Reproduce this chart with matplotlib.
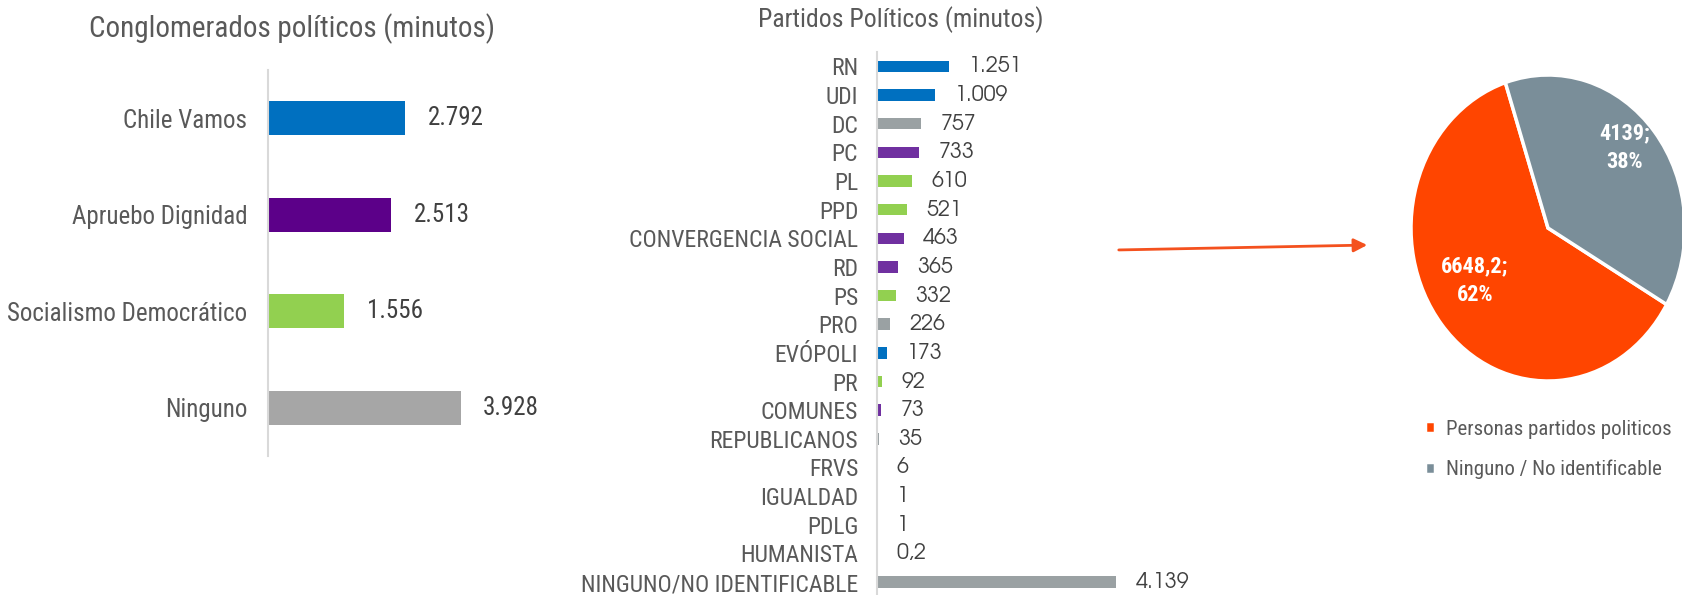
import matplotlib
matplotlib.use("Agg")
import matplotlib.pyplot as plt
from matplotlib.patches import FancyArrowPatch

# ====================================
# Data
# ====================================
bloques = ["Chile Vamos", "Apruebo Dignidad", "Socialismo Democrático", "Ninguno"]
bloques_min = [2792, 2513, 1556, 3928]
bloques_col = ["#0070C0", "#5C0089", "#92D050", "#A6A6A6"]

partidos = ["RN", "UDI", "DC", "PC", "PL", "PPD", "CONVERGENCIA SOCIAL", "RD", "PS",
            "PRO", "EVÓPOLI", "PR", "COMUNES", "REPUBLICANOS", "FRVS", "IGUALDAD",
            "PDLG", "HUMANISTA", "NINGUNO/NO IDENTIFICABLE"]
partidos_min = [1251, 1009, 757, 733, 610, 521, 463, 365, 332, 226, 173, 92, 73, 35,
                6, 1, 1, 0.2, 4139]
partidos_col = ["#0070C0", "#0070C0", "#9AA1A3", "#7030A0", "#92D050", "#92D050",
                "#7030A0", "#7030A0", "#92D050", "#9AA1A3", "#0070C0", "#92D050",
                "#7030A0", "#9AA1A3", "#7030A0", "#9AA1A3", "#9AA1A3", "#9AA1A3",
                "#9AA1A3"]

torta_labels = ["Personas partidos politicos", "Ninguno / No identificable"]
torta_vals = [6648.2, 4139]
torta_col = ["#FF4500", "#7A8E99"]

# ====================================
# Style
# ====================================
narrow = "Roboto Condensed"
num_font = "TeX Gyre Adventor"
TXT = "#595959"
DARK = "#404040"
W, H = 1682, 595


def fmt(v, miles=True):
    if v == int(v):
        s = f"{int(v):,}" if miles else str(int(v))
        return s.replace(",", ".")
    return str(v).replace(".", ",")


fig = plt.figure(figsize=(W / 100, H / 100), dpi=100)


def px_axes(l, t, w, h):
    return fig.add_axes([l / W, 1 - (t + h) / H, w / W, h / H])


# ====================================
# Graph 1: Conglomerados
# ====================================
ax1 = px_axes(268, 70, 300, 386)
y1 = range(len(bloques))
ax1.barh(y1, bloques_min, height=0.35, color=bloques_col)
ax1.set_xlim(0, 300 / 193 * 3928)
ax1.set_ylim(len(bloques) - 0.5, -0.5)
ax1.set_yticks(list(y1))
ax1.set_yticklabels(bloques, fontfamily=narrow, fontsize=18, color=TXT)
ax1.tick_params(axis="y", length=0, pad=15)
ax1.set_xticks([])
for s in ["top", "right", "bottom"]:
    ax1.spines[s].set_visible(False)
ax1.spines["left"].set_color("#D9D9D9")
ax1.spines["left"].set_linewidth(1.5)
for i, v in enumerate(bloques_min):
    ax1.annotate(fmt(v), (v, i), xytext=(16, 0), textcoords="offset points",
                 va="center", ha="left", fontfamily=narrow, fontsize=18, color=DARK)
fig.text(292 / W, 1 - 29 / H, "Conglomerados políticos (minutos)", ha="center", va="center",
         fontfamily=narrow, fontsize=21, color=TXT)

# ====================================
# Graph 2: Partidos
# ====================================
ax2 = px_axes(877, 52, 400, 543)
y2 = range(len(partidos))
ax2.barh(y2, partidos_min, height=0.4, color=partidos_col)
ax2.set_xlim(0, 400 / 239 * 4139)
ax2.set_ylim(len(partidos) - 0.55, -0.5)
ax2.set_yticks(list(y2))
ax2.set_yticklabels(partidos, fontfamily=narrow, fontsize=17, color=TXT)
ax2.tick_params(axis="y", length=0, pad=13.5)
ax2.set_xticks([])
for s in ["top", "right", "bottom"]:
    ax2.spines[s].set_visible(False)
ax2.spines["left"].set_color("#D9D9D9")
ax2.spines["left"].set_linewidth(1.5)
for i, v in enumerate(partidos_min):
    ax2.annotate(fmt(v), (v, i), xytext=(14, 0), textcoords="offset points",
                 va="center", ha="left", fontfamily=num_font, fontsize=15.5, color=DARK)
fig.text(901 / W, 1 - 20 / H, "Partidos Políticos (minutos)", ha="center", va="center",
         fontfamily=narrow, fontsize=18.5, color=TXT)

# ====================================
# Graph 3: Pie
# ====================================
ax3 = px_axes(1398, 68, 300, 320)
wedges, _ = ax3.pie(torta_vals, colors=torta_col, startangle=-30, counterclock=False,
                    wedgeprops=dict(edgecolor="white", linewidth=2.5))
ax3.set_aspect("auto")
ax3.set_xlim(-150 / 137, 150 / 137)
ax3.set_ylim(-160 / 153, 160 / 153)
total = sum(torta_vals)
pos = [(1475, 281), (1625, 148)]
for (px, py), v in zip(pos, torta_vals):
    fig.text(px / W, 1 - py / H, f"{fmt(v, miles=False)};\n{round(v / total * 100)}%",
             ha="center", va="center", fontfamily=narrow, fontsize=16, fontweight="bold",
             color="white", linespacing=1.4)
fig.legend(wedges, torta_labels, loc="upper left", bbox_to_anchor=(1406 / W, 1 - 401 / H),
           frameon=False, handlelength=0.5, handleheight=0.5, handletextpad=0.5,
           labelspacing=1.0, prop=dict(family=narrow, size=15), labelcolor=TXT)

# Arrow
fig.add_artist(FancyArrowPatch(
    (1116 / W, 1 - 250 / H), (1370 / W, 1 - 245 / H), transform=fig.transFigure,
    arrowstyle="-|>", mutation_scale=20, color="#F4511E", linewidth=2))

fig.savefig("out.png", dpi=100)
